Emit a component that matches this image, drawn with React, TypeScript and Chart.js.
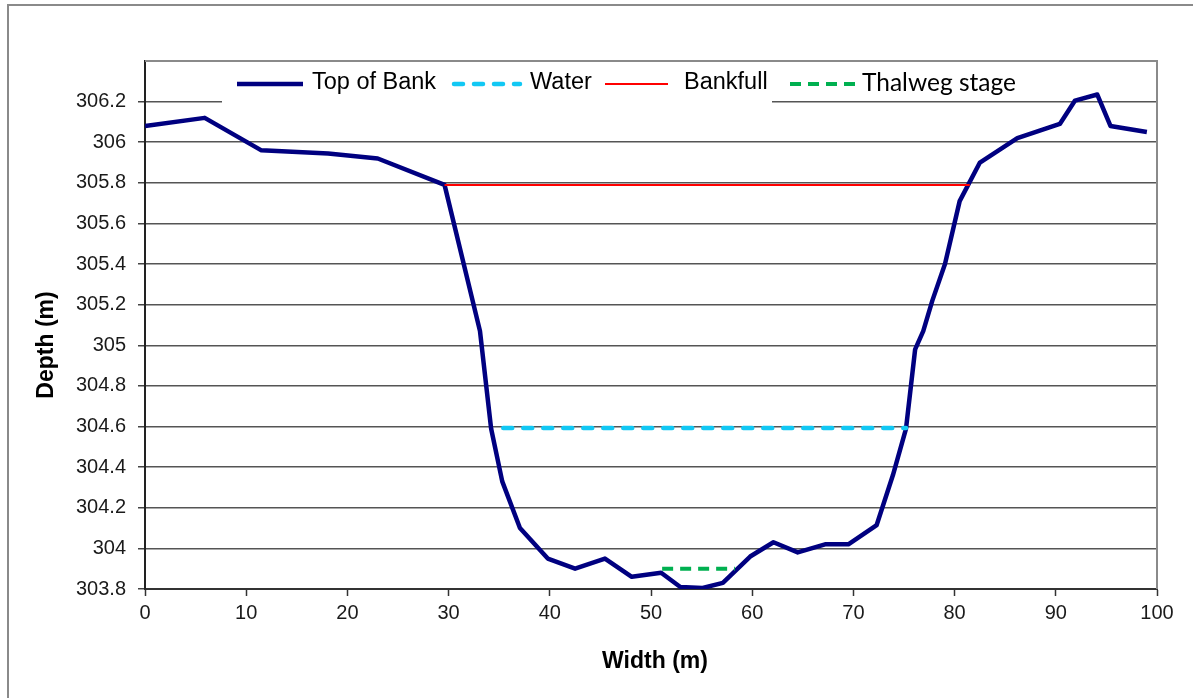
import React, { useEffect, useRef } from 'react';
import { Chart, registerables } from 'chart.js';

Chart.register(...registerables);

// ---- Data ----
const bankX = [0, 5.9, 11.5, 18.1, 23.0, 29.6, 33.1, 34.2, 35.3, 37.05, 39.8, 42.5, 45.45, 48.1, 51.0, 52.9, 55.1, 57.1, 59.8, 62.1, 64.5, 67.2, 69.5, 72.3, 73.9, 75.2, 76.1, 76.9, 77.8, 79.05, 80.5, 82.5, 86.2, 90.4, 91.9, 94.1, 95.4, 99.0];
const bankY = [306.08, 306.12, 305.96, 305.945, 305.92, 305.79, 305.07, 304.59, 304.33, 304.1, 303.95, 303.9, 303.95, 303.86, 303.88, 303.81, 303.805, 303.83, 303.96, 304.03, 303.98, 304.02, 304.02, 304.115, 304.36, 304.59, 304.98, 305.07, 305.22, 305.40, 305.71, 305.90, 306.02, 306.09, 306.205, 306.235, 306.08, 306.05];
const waterX = [35.4, 75.2];
const waterY = [304.593, 304.593];
const bankfullX = [29.6, 81.5];
const bankfullY = [305.79, 305.79];
const thalwegX = [51.1, 58.3];
const thalwegY = [303.9, 303.9];
const seriesNames = ['Top of Bank', 'Water', 'Bankfull', 'Thalweg stage'];
const xTickValues = [0, 10, 20, 30, 40, 50, 60, 70, 80, 90, 100];
const yTickValues = [303.8, 304, 304.2, 304.4, 304.6, 304.8, 305, 305.2, 305.4, 305.6, 305.8, 306, 306.2];
const xTitle = 'Width (m)';
const yTitle = 'Depth (m)';

const toPts = (xs: number[], ys: number[]) => xs.map((x, i) => ({ x, y: ys[i] }));

const ARIAL = '"Liberation Sans", Arial, sans-serif';

const framePlugin = {
  id: 'frame',
  beforeDatasetsDraw(chart: any) {
    const ctx = chart.ctx;
    ctx.save();
    ctx.fillStyle = '#ffffff';
    ctx.fillRect(222, 63, 550, 42);
    ctx.restore();
  },
  afterDatasetsDraw(chart: any) {
    const { ctx, chartArea } = chart;
    ctx.save();
    ctx.strokeStyle = '#8a8a8a';
    ctx.lineWidth = 2;
    ctx.beginPath();
    ctx.moveTo(chartArea.left, chartArea.top);
    ctx.lineTo(chartArea.right, chartArea.top);
    ctx.lineTo(chartArea.right, chartArea.bottom);
    ctx.stroke();
    ctx.restore();
  },
  afterDraw(chart: any) {
    const ctx = chart.ctx;
    ctx.save();
    // outer frame
    ctx.strokeStyle = '#8a8a8a';
    ctx.lineWidth = 2;
    ctx.beginPath();
    ctx.moveTo(8, 700);
    ctx.lineTo(8, 5);
    ctx.lineTo(1200, 5);
    ctx.stroke();

    // legend
    const items = [
      { sx: 237, len: 66, tx: 312 },
      { sx: 454, len: 66, tx: 530 },
      { sx: 605, len: 63, tx: 684 },
      { sx: 790, len: 65, tx: 862 },
    ];
    chart.data.datasets.forEach((ds: any, i: number) => {
      const it = items[i];
      ctx.strokeStyle = ds.borderColor;
      ctx.lineWidth = ds.borderWidth;
      ctx.setLineDash(ds.borderDash || []);
      ctx.lineCap = ds.borderCapStyle || 'butt';
      ctx.beginPath();
      ctx.moveTo(it.sx, 84);
      ctx.lineTo(it.sx + it.len, 84);
      ctx.stroke();
      ctx.setLineDash([]);
      ctx.fillStyle = '#000';
      ctx.textBaseline = 'middle';
      ctx.textAlign = 'left';
      if (i === 3) {
        ctx.font = '24px Lato, "Noto Sans", sans-serif';
        const w = ctx.measureText(ds.label).width;
        const size = 24 * 154 / w;
        ctx.font = `${size.toFixed(1)}px Lato, "Noto Sans", sans-serif`;
      } else {
        ctx.font = `23.5px ${ARIAL}`;
      }
      ctx.fillText(ds.label, it.tx, 83);
    });

    // axis titles
    ctx.fillStyle = '#000';
    ctx.font = `bold 23px ${ARIAL}`;
    ctx.textAlign = 'center';
    ctx.textBaseline = 'middle';
    ctx.fillText(xTitle, 655, 662);
    ctx.translate(47, 345);
    ctx.rotate(-Math.PI / 2);
    ctx.fillText(yTitle, 0, 0);
    ctx.restore();
  },
};

export default function App() {
  const ref = useRef<HTMLCanvasElement | null>(null);
  useEffect(() => {
    if (!ref.current) return;
    const chart = new Chart(ref.current, {
      type: 'line',
      data: {
        datasets: [
          {
            label: seriesNames[0],
            data: toPts(bankX, bankY),
            borderColor: '#000080',
            borderWidth: 4.5,
            pointRadius: 0,
            tension: 0,
            borderJoinStyle: 'round',
            order: 1,
          },
          {
            label: seriesNames[1],
            data: toPts(waterX, waterY),
            borderColor: '#12c8f4',
            borderWidth: 4.5,
            borderDash: [9, 11],
            borderCapStyle: 'round',
            pointRadius: 0,
            order: 0,
          },
          {
            label: seriesNames[2],
            data: toPts(bankfullX, bankfullY),
            borderColor: '#ff0000',
            borderWidth: 2,
            pointRadius: 0,
            order: 0,
          },
          {
            label: seriesNames[3],
            data: toPts(thalwegX, thalwegY),
            borderColor: '#00b050',
            borderWidth: 4,
            borderDash: [11, 7],
            pointRadius: 0,
            order: 0,
          },
        ] as any,
      },
      options: {
        animation: false,
        responsive: false,
        devicePixelRatio: 1,
        layout: { padding: { top: 61, right: 36, left: 0, bottom: 0 } },
        plugins: { legend: { display: false }, tooltip: { enabled: false } },
        scales: {
          x: {
            type: 'linear',
            min: 0,
            max: 100,
            afterBuildTicks: (s: any) => { s.ticks = xTickValues.map((v) => ({ value: v })); },
            afterFit: (s: any) => { s.height = 109; },
            grid: { drawOnChartArea: false, drawTicks: true, tickLength: 7, tickColor: '#333', tickWidth: 1.5 },
            border: { color: '#333', width: 2 },
            ticks: {
              padding: 5,
              color: '#1a1a1a',
              font: { size: 20, family: ARIAL },
              maxRotation: 0,
              callback: (v: any) => String(v),
            },
          },
          y: {
            type: 'linear',
            min: 303.8,
            max: 306.4,
            afterBuildTicks: (s: any) => { s.ticks = yTickValues.map((v) => ({ value: v })); },
            afterFit: (s: any) => { s.width = 145; },
            grid: { color: '#555', lineWidth: 1.5, tickLength: 7, tickColor: '#444', tickWidth: 1.5 },
            border: { color: '#222', width: 2 },
            ticks: {
              padding: 12,
              color: '#1a1a1a',
              font: { size: 20, family: ARIAL },
              callback: (v: any) => String(Number(Number(v).toFixed(1))),
            },
          },
        },
      } as any,
      plugins: [framePlugin],
    });
    return () => chart.destroy();
  }, []);
  return (
    <div style={{ position: 'absolute', left: 0, top: 0, width: 1193, height: 698, background: '#fff' }}>
      <canvas ref={ref} width={1193} height={698} style={{ width: 1193, height: 698, display: 'block' }} />
    </div>
  );
}
